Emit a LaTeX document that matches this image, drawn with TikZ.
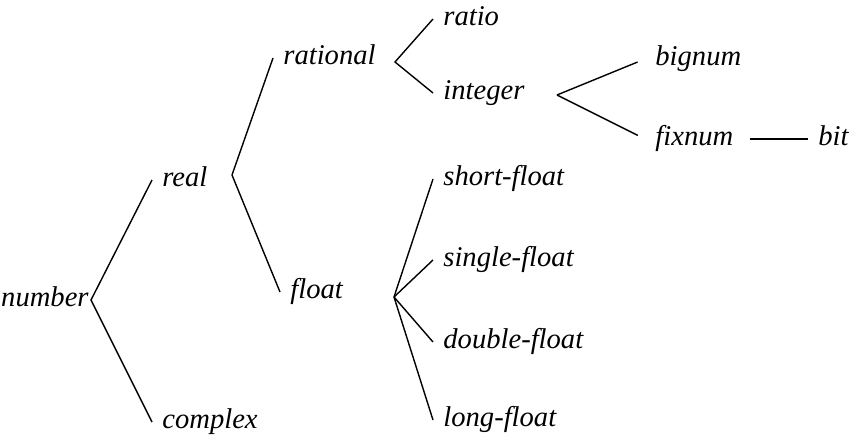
\documentclass[tikz,border=0pt]{standalone}
\usepackage{fontspec}
\setmainfont{Liberation Serif}
\usepackage{tikz}
\usetikzlibrary{positioning}

\begin{document}
\begin{tikzpicture}[
x=0.5pt, y=-0.5pt,
word/.style={anchor=west, inner sep=5pt, text height=1.5ex, text depth=0pt,
  font=\fontsize{14.3}{17}\selectfont\itshape},
edge/.style={line width=0.7pt},
gap/.style={shorten >=4pt}
]
\useasboundingbox (0,0) rectangle (858,444);

% left part of the tree
\node[word, anchor=east, inner sep=1pt] (number) at (91,300) {number};
\node[word] (real) at (152,180) {real};
\node[word] (complex) at (152,422) {complex};
\coordinate (realfork) at (232,175);
\node[word] (rational) at (273,58) {rational};
\node[word] (float) at (280,292) {float};

% rationals
\coordinate (ratfork) at (395,62);
\node[word] (ratio) at (433,19) {ratio};
\node[word] (integer) at (433,93) {integer};
\coordinate (intfork) at (557,95);
\node[word] (bignum) at (645,59) {bignum};
\node[word] (fixnum) at (645,139) {fixnum};
\node[word] (bit) at (808,139) {bit};

% floats
\coordinate (floatfork) at (394,297);
\node[word] (short) at (433,179) {short-float};
\node[word] (single) at (433,260) {single-float};
\node[word] (double) at (433,342) {double-float};
\node[word] (long) at (433,420) {long-float};

\draw[edge] (real.west) -- (number.east) -- (complex.west);
\draw[edge] (rational.west) -- (realfork) -- (float.west);
\draw[edge] (ratio.west) -- (ratfork) -- (integer.west);
\draw[edge, gap] (intfork) -- (bignum.west);
\draw[edge, gap] (intfork) -- (fixnum.west);
\draw[edge, shorten <=3pt] (fixnum.east) -- (bit.west);
\foreach \f in {short,single,double,long}
  \draw[edge] (floatfork) -- (\f.west);
\end{tikzpicture}
\end{document}
